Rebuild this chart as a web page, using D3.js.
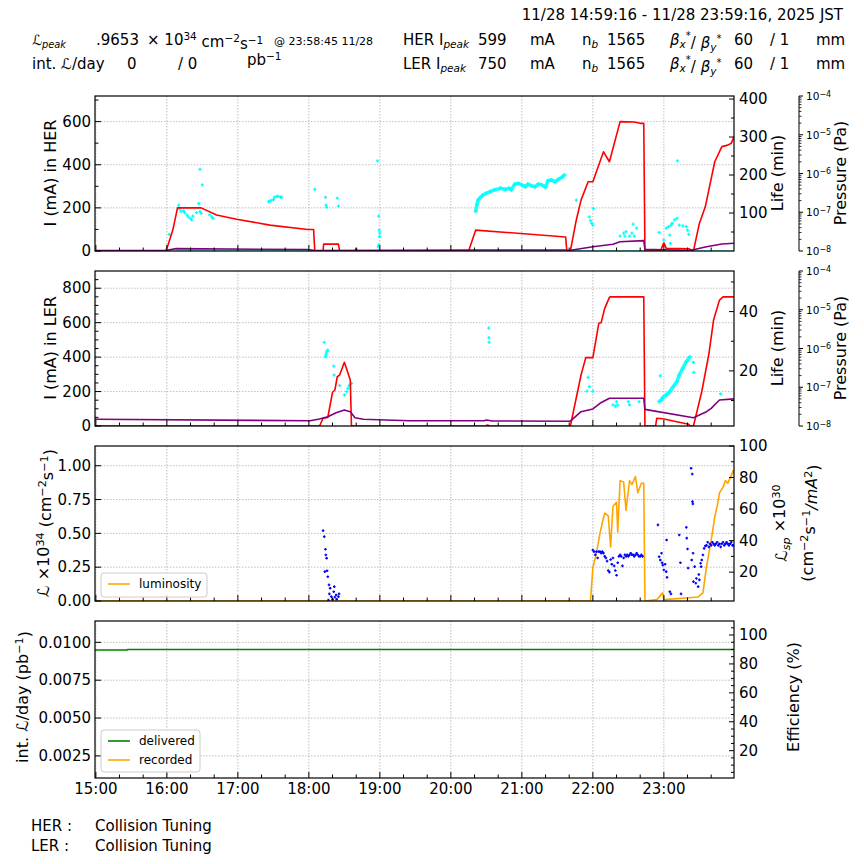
<!DOCTYPE html>
<html><head><meta charset="utf-8">
<script src="https://cdn.jsdelivr.net/npm/d3@7/dist/d3.min.js"></script>
<style>body{margin:0;background:#fff}svg{font-family:"DejaVu Sans",sans-serif}</style>
</head><body><div id="chart"></div>
<script>
// ---------------- DATA ----------------
const timeStart = "14:59:16", timeEnd = "23:59:16";
const hourTicks = ["15:00","16:00","17:00","18:00","19:00","20:00","21:00","22:00","23:00"];

const herCurrent = [["14:59:16",0],["15:59",0],["16:01",28],["16:05",97],["16:09",200],["16:29",200],["16:42",167],["16:59",147],["17:16",131],["17:27",120],["17:59",100],["18:04",100],["18:05",0],["18:12",0],["18:12:30",32],["18:25",32],["18:26",0],["18:39",0],["18:40",12],["18:41",0],["20:15",0],["20:21",97],["21:37",65],["21:38",0],["21:41",0],["21:46",144],["21:50",236],["21:56",321],["22:00",321],["22:05",399],["22:09",460],["22:14",414],["22:23",600],["22:35",598],["22:40",592],["22:43",592],["22:44",0],["22:57",0],["22:58",12],["23:00",38],["23:02",12],["23:21",10],["23:25",0],["23:30",128],["23:35",205],["23:43",414],["23:49",484],["23:54",491],["23:57",500],["23:59:16",530]];
const herPressure = [["14:59:16",1.03e-8],["15:59",1.03e-8],["16:08",1.15e-8],["17:59",1.09e-8],["18:05",1.03e-8],["20:20",1.06e-8],["21:37",1.06e-8],["21:40",1.03e-8],["22:00",1.29e-8],["22:17",1.49e-8],["22:23",1.74e-8],["22:43",1.85e-8],["22:44",1.11e-8],["23:22",1.03e-8],["23:36",1.29e-8],["23:49",1.51e-8],["23:59:16",1.58e-8]];
const herLifeTrack = [["20:21",104],["20:22",121],["20:23",134],["20:25",141],["20:27",147],["20:30",152],["20:33",156],["20:37",161],["20:42",165],["20:46",162],["20:49",165],["20:51",161],["20:54",176],["20:57",178],["21:00",174],["21:03",169],["21:05",176],["21:08",172],["21:11",169],["21:14",176],["21:17",174],["21:20",168],["21:22",185],["21:25",187],["21:28",182],["21:31",189],["21:34",194],["21:36",200]];
const herLifeScatter = [["16:02",44],["16:10",121],["16:11",110],["16:12",104],["16:14",106],["16:15",101],["16:17",95],["16:18",90],["16:20",86],["16:21",82],["16:22",92],["16:25",101],["16:27",125],["16:28",104],["16:29",99],["16:28",215],["16:30",174],["16:36",95],["16:38",90],["16:39",86],
["17:26",130],["17:27",131],["17:28",133],["17:30",135],["17:31",142],["17:33",144],["17:34",144],["17:36",142],["17:37",142],
["18:05",162],["18:14",141],["18:14:30",121],["18:15",115],["18:24",139],["18:25",118],["18:58",237],["18:59",92],["18:59:20",55],["19:00",47],["18:59:40",38],["18:59",16],["18:58:40",11],
["21:46",134],["21:57",90],["21:58",80],["21:59",73],["22:00",68],["22:00:30",112],["22:23",39],["22:26",47],["22:27",39],["22:28",51],["22:31",39],["22:33",47],["22:34",71],["22:35",39],["22:37",60],
["22:56",49],["23:00",29],["23:02",60],["23:04",64],["23:06",68],["23:07",73],["23:09",82],["23:11",86],["23:11:30",237],["23:05",42],["23:05:30",20],["23:13",68],["23:16",66],["23:19",64],["23:20",55],["23:21",44]];

const lerCurrent = [["14:59:16",0],["18:09",0],["18:12",45],["18:16",50],["18:20",196],["18:22",209],["18:24",286],["18:26",296],["18:30",370],["18:35",267],["18:36",0],["20:29",0],["20:31",6],["20:33",0],["21:41",0],["21:50",296],["21:54",397],["22:00",397],["22:05",596],["22:07",600],["22:10",683],["22:14",747],["22:15",750],["22:43",750],["22:44",0],["22:53",0],["22:54",45],["22:59",42],["23:21",10],["23:22",0],["23:25",0],["23:32",199],["23:38",416],["23:42",615],["23:47",731],["23:50",750],["23:59:16",750]];
const lerPressure = [["14:59:16",1.49e-8],["18:01",1.37e-8],["18:09",1.51e-8],["18:16",1.74e-8],["18:23",2.20e-8],["18:30",2.59e-8],["18:35",2.34e-8],["18:39",1.64e-8],["18:46",1.49e-8],["19:25",1.37e-8],["20:28",1.37e-8],["20:30",1.43e-8],["20:35",1.35e-8],["21:41",1.33e-8],["21:50",2.34e-8],["22:00",2.75e-8],["22:06",3.85e-8],["22:14",5.19e-8],["22:43",5.19e-8],["22:44",2.69e-8],["23:25",1.64e-8],["23:36",2.34e-8],["23:40",2.86e-8],["23:47",4.68e-8],["23:59:16",5.0e-8]];
const lerLifeTrack = [["22:56",9.6],["22:58",10.2],["22:59",11.0],["23:02",11.9],["23:05",13.0],["23:08",14.7],["23:11",16.4],["23:13",18.6],["23:16",20.9],["23:19",23.1],["23:22",24.8]];
const lerLifeScatter = [["18:13",29.6],["18:14",24.8],["18:14:30",25.6],["18:15",26.3],["18:15:30",26.7],["18:16",27.0],["18:21",21.6],["18:21:20",18.6],["18:26",15.0],["18:30",11.9],["18:32",13.0],["18:33",14.1],["18:34",15.0],["18:36",15.8],
["20:32",34.4],["20:32:10",31.2],["20:32:20",29.6],["21:55",13.2],["21:56",17.8],["21:57",14.7],["22:00",13.2],["22:17",8.5],["22:19",8.1],["22:20",9.6],["22:21",8.5],["22:30",9.6],["22:31",8.5],["22:39",9.6],["22:57",18.3],["23:25",22.9],["23:25:20",19.5],["23:48",12.2]];

const luminosity = [["14:59:16",0],["21:58",0],["22:00",0.25],["22:03",0.35],["22:06",0.50],["22:08",0.58],["22:10",0.65],["22:13",0.63],["22:15",0.40],["22:17",0.70],["22:20",0.73],["22:21",0.51],["22:23",0.89],["22:26",0.88],["22:28",0.67],["22:31",0.89],["22:33",0.86],["22:36",0.92],["22:38",0.80],["22:41",0.87],["22:43",0.87],["22:44",0],["22:54",0.01],["22:59",0.06],["23:00",0.01],["23:29",0.03],["23:33",0.06],["23:36",0.25],["23:40",0.45],["23:43",0.62],["23:45",0.70],["23:47",0.80],["23:50",0.84],["23:52",0.89],["23:54",0.87],["23:56",0.91],["23:58:45",0.9653],["23:59:16",0.94]];
const specificLumi = [["18:12",46.3],["18:13",42.5],["18:14",34.5],["18:14:20",30.9],["18:15",28.8],["18:13:30",20.3],["18:15:20",20.9],["18:16",17.1],["18:17",11.9],["18:18",9.8],["18:17:20",6.2],["18:19",4.5],["18:21",7.6],["18:22",4.1],["18:23",5.5],["18:25",4.5],["18:21:30",10.8],["18:20",2.8],["18:16:30",2.3],["18:23:30",2.8],["18:25:30",6.2],
["22:00",34],["22:01",33],["22:02",31],["22:03",33],["22:04",29],["22:05",33],["22:06",33],["22:07",32],["22:08",33],["22:09",32],["22:10",30],["22:11",29],["22:12",27],["22:13",21],["22:14",20],["22:15",28],["22:16",25],["22:17",29],["22:18",24],["22:19",21],["22:20",18],["22:21",26],["22:22",30],["22:23",31],["22:24",30],["22:25",24],["22:26",29],["22:27",31],["22:28",30],["22:29",31],["22:30",30],["22:31",31],["22:32",32],["22:33",31],["22:34",31],["22:35",30],["22:36",31],["22:37",32],["22:38",31],["22:39",30],["22:40",30],["22:41",31],["22:42",30],
["22:55",50],["22:56",29.8],["22:57",27.7],["22:58",32],["22:58:30",26],["22:59",24.5],["23:00",21.4],["23:01",25],["23:02",20.3],["23:02:20",40.4],["23:02:40",16.7],["23:05",7.6],["23:06",6.2],["23:13",43.6],["23:14",26],["23:14:30",6.2],["23:19",48.4],["23:19:20",41.6],["23:20",34.7],["23:20:30",22.6],
["23:23",85.9],["23:24",82.2],["23:24:10",64.7],["23:24:30",63.3],["23:23:30",27.7],["23:24:40",32],["23:25",14],["23:26",23.5],["23:27",13],["23:27:30",16],["23:29",10.8],["23:29:30",18.5],["23:30",15.1],["23:31",25.6],["23:31:30",23.5],["23:32",27.7],["23:33",30.9],["23:34",35.1],["23:35",36.6],
["23:36",37],["23:37",39],["23:38",36],["23:39",38],["23:40",37],["23:41",39],["23:42",38],["23:43",37],["23:44",38],["23:45",39],["23:46",37],["23:47",38],["23:48",36],["23:49",38],["23:50",39],["23:51",37],["23:52",38],["23:53",39],["23:54",38],["23:55",37],["23:56",38],["23:57",39],["23:58",37],["23:59",37]];

const delivered = [["14:59:16",0.00949],["15:26",0.00949],["15:27",0.00953],["23:59:16",0.00953]];
const recorded = [["14:59:16",0],["23:59:16",0]];

const p1Ticks=[0,200,400,600], p1Minor=[100,300,500,700], p1Life=[100,200,300,400], p1LifeMinor=[50,150,250,350];
const p2Ticks=[0,200,400,600,800], p2Minor=[50,100,150,250,300,350,450,500,550,650,700,750,850], p2Life=[20,40], p2LifeMinor=[10,30,50];
const p3Ticks=[0,0.25,0.5,0.75,1.0], p3Right=[20,40,60,80,100], p3RightMinor=[10,30,50,70,90];
const p4Ticks=[0.0025,0.005,0.0075,0.01], p4Right=[20,40,60,80,100], p4RightMinor=[5,10,15,25,30,35,45,50,55,65,70,75,85,90,95,105];
const pressureTicks=[1e-8,1e-7,1e-6,1e-5,1e-4];

// ---------------- DRAW ----------------
function tm(s){const a=s.split(':').map(Number);return (a[0]-15)*60+a[1]+(a[2]||0)/60;}
const W=864,H=864;
const svg=d3.select('#chart').append('svg').attr('width',W).attr('height',H);
const L=95,R=734;
const x=d3.scaleLinear().domain([tm(timeStart),tm(timeEnd)]).range([L,R]);
const FS=15;

const panels=[{t:96,b:251},{t:271,b:426},{t:446,b:601},{t:621,b:778}];
panels.forEach((p,i)=>{
  svg.append('clipPath').attr('id','clip'+i).append('rect').attr('x',L).attr('y',p.t).attr('width',R-L).attr('height',p.b-p.t);
});

function grid(p,ys,vals){
  const g=svg.append('g').attr('stroke','#b0b0b0').attr('stroke-width',0.8).attr('stroke-dasharray','1.5,1.5');
  hourTicks.forEach(h=>g.append('line').attr('x1',x(tm(h))).attr('x2',x(tm(h))).attr('y1',p.t).attr('y2',p.b));
  vals.forEach(v=>g.append('line').attr('x1',L).attr('x2',R).attr('y1',ys(v)).attr('y2',ys(v)));
}
function frame(p,showLabels){
  const g=svg.append('g');
  for(let m=tm("15:00")-60;m<=tm(timeEnd);m+=20){ if(m<x.domain()[0])continue;
    const major=((m%60)+60)%60===0;
    g.append('line').attr('x1',x(m)).attr('x2',x(m)).attr('y1',p.b).attr('y2',p.b-(major?6:3.5)).attr('stroke','#000').attr('stroke-width',1);
  }
  g.append('rect').attr('x',L).attr('y',p.t).attr('width',R-L).attr('height',p.b-p.t).attr('fill','none').attr('stroke','#000').attr('stroke-width',1.2);
  if(showLabels){
    hourTicks.forEach(h=>g.append('text').attr('x',x(tm(h))).attr('y',p.b+16).attr('text-anchor','middle').attr('font-size',FS).text(h));
  }
}
function leftAxis(p,ys,vals,fmt,minor){
  const g=svg.append('g');
  vals.forEach(v=>{g.append('line').attr('x1',L).attr('x2',L+6).attr('y1',ys(v)).attr('y2',ys(v)).attr('stroke','#000');
    g.append('text').attr('x',L-4).attr('y',ys(v)).attr('dy','0.35em').attr('text-anchor','end').attr('font-size',FS).text(fmt(v));});
  (minor||[]).forEach(v=>g.append('line').attr('x1',L).attr('x2',L+3.5).attr('y1',ys(v)).attr('y2',ys(v)).attr('stroke','#000'));
}
function rightAxis(p,ys,vals,fmt,minor){
  const g=svg.append('g');
  const [lo,hi]=ys.domain();
  vals.forEach(v=>{g.append('line').attr('x1',R-5).attr('x2',R).attr('y1',ys(v)).attr('y2',ys(v)).attr('stroke','#000');
    g.append('text').attr('x',R+5).attr('y',ys(v)).attr('dy','0.35em').attr('font-size',FS).text(fmt(v));});
  (minor||[]).filter(v=>v>lo&&v<hi).forEach(v=>g.append('line').attr('x1',R-3).attr('x2',R).attr('y1',ys(v)).attr('y2',ys(v)).attr('stroke','#000'));
}
function pressureAxis(p,ys){
  const ax=799,g=svg.append('g');
  g.append('line').attr('x1',ax).attr('x2',ax).attr('y1',p.t).attr('y2',p.b).attr('stroke','#000');
  pressureTicks.forEach(v=>{g.append('line').attr('x1',ax).attr('x2',ax+4).attr('y1',ys(v)).attr('y2',ys(v)).attr('stroke','#000');
    const e=Math.round(Math.log10(v));
    const t=g.append('text').attr('x',ax+7).attr('y',ys(v)).attr('dy','0.4em').attr('font-size',10.5);
    t.append('tspan').text('10'); t.append('tspan').attr('dy','-0.45em').attr('font-size',8).text('\u2212'+(-e));});
  for(let e=-8;e<-4;e++)for(let k=2;k<10;k++){const v=k*Math.pow(10,e);
    g.append('line').attr('x1',ax).attr('x2',ax+2.5).attr('y1',ys(v)).attr('y2',ys(v)).attr('stroke','#000').attr('stroke-width',0.8);}
}
function vlabel(xc,yc,parts,fs){
  fs=fs||16;
  const t=svg.append('text').attr('transform',`translate(${xc+0.36*fs},${yc}) rotate(-90)`).attr('text-anchor','middle').attr('font-size',fs);
  parts.forEach(pt=>{const s=t.append('tspan').text(pt.t);
    if(pt.sup){s.attr('dy',pt.dy!==undefined?pt.dy:'-0.45em').attr('font-size',fs*0.7);}
    else if(pt.dy!==undefined){s.attr('dy',pt.dy);}
    if(pt.it)s.attr('font-style','italic'); if(pt.fs)s.attr('font-size',pt.fs);});
  return t;
}
function line(data,xs,ys,color,w,clip,op){
  svg.append('path').datum(data).attr('clip-path',`url(#clip${clip})`).attr('fill','none').attr('stroke',color).attr('stroke-width',w).attr('opacity',op||1)
    .attr('stroke-linejoin','round').attr('d',d3.line().x(d=>xs(tm(d[0]))).y(d=>ys(d[1])));
}
function dots(data,xs,ys,color,r,clip){
  svg.append('g').attr('clip-path',`url(#clip${clip})`).selectAll('path').data(data).join('path')
    .attr('d',d=>{const cx=xs(tm(d[0])),cy=ys(d[1]);return `M${cx-r},${cy}H${cx+r}M${cx},${cy-r}V${cy+r}`;})
    .attr('stroke',color).attr('stroke-width',1.3);
}

// ---- Panel 1 HER
const P1=panels[0];
const y1=d3.scaleLinear().domain([0,718.8]).range([P1.b,P1.t]);
const y1L=d3.scaleLinear().domain([0,408]).range([P1.b,P1.t]);
const y1P=d3.scaleLog().domain([1e-8,1e-4]).range([P1.b,P1.t]);
grid(P1,y1,p1Ticks);
line([["16:08",0],[timeEnd,0]],x,y1L,'cyan',1.2,0);
line(herLifeTrack,x,y1L,'cyan',3.5,0,0.9);
dots(herLifeTrack,x,y1L,'cyan',2,0);
dots(herLifeScatter,x,y1L,'cyan',1.6,0);
line(herCurrent,x,y1,'red',1.6,0);
line(herPressure,x,y1P,'purple',1.6,0);
frame(P1,false);
leftAxis(P1,y1,p1Ticks,d3.format('d'),p1Minor);
rightAxis(P1,y1L,p1Life,d3.format('d'),p1LifeMinor);
pressureAxis(P1,y1P);
vlabel(50,173,[{t:'I (mA) in HER'}]);
vlabel(777,173,[{t:'Life (min)'}]);
vlabel(840,173,[{t:'Pressure (Pa)'}]);

// ---- Panel 2 LER
const P2=panels[1];
const y2=d3.scaleLinear().domain([0,900]).range([P2.b,P2.t]);
const y2L=d3.scaleLinear().domain([1.4,53.7]).range([P2.b,P2.t]);
const y2P=d3.scaleLog().domain([1e-8,1e-4]).range([P2.b,P2.t]);
grid(P2,y2,p2Ticks);
line(lerLifeTrack,x,y2L,'cyan',3.5,1,0.9);
dots(lerLifeTrack,x,y2L,'cyan',2,1);
dots(lerLifeScatter,x,y2L,'cyan',1.6,1);
line(lerCurrent,x,y2,'red',1.6,1);
line(lerPressure,x,y2P,'purple',1.6,1);
frame(P2,false);
leftAxis(P2,y2,p2Ticks,d3.format('d'),p2Minor);
rightAxis(P2,y2L,p2Life,d3.format('d'),p2LifeMinor);
pressureAxis(P2,y2P);
vlabel(50,348,[{t:'I (mA) in LER'}]);
vlabel(777,348,[{t:'Life (min)'}]);
vlabel(840,348,[{t:'Pressure (Pa)'}]);

// ---- Panel 3 luminosity
const P3=panels[2];
const y3=d3.scaleLinear().domain([0,1.146]).range([P3.b,P3.t]);
const y3R=d3.scaleLinear().domain([1.7,100]).range([P3.b,P3.t]);
grid(P3,y3,p3Ticks);
line(luminosity,x,y3,'orange',1.6,2);
dots(specificLumi,x,y3R,'blue',1.3,2);
frame(P3,false);
leftAxis(P3,y3,p3Ticks,d3.format('.2f'));
rightAxis(P3,y3R,p3Right,d3.format('d'),p3RightMinor);
vlabel(43,523,[{t:'\u2112',it:true},{t:' \u00d710'},{t:'34',sup:true},{t:' (cm',dy:'0.45em'},{t:'\u22122',sup:true},{t:'s',dy:'0.45em'},{t:'\u22121',sup:true},{t:')',dy:'0.45em'}]);
vlabel(781,523,[{t:'\u2112',it:true},{t:'sp',it:true,dy:'0.3em',fs:11},{t:' \u00d710',dy:'-0.3em'},{t:'30',sup:true}]);
vlabel(807,523,[{t:'(cm'},{t:'\u22122',sup:true},{t:'s',dy:'0.45em'},{t:'\u22121',sup:true},{t:'/mA',dy:'0.45em',it:true},{t:'2',sup:true},{t:')',dy:'0.45em'}]);
{const g=svg.append('g');
 g.append('rect').attr('x',101).attr('y',573).attr('width',106).attr('height',24).attr('rx',3).attr('fill','#fff').attr('fill-opacity',0.8).attr('stroke','#ccc');
 g.append('line').attr('x1',108).attr('x2',130).attr('y1',584).attr('y2',584).attr('stroke','orange').attr('stroke-width',1.6);
 g.append('text').attr('x',139).attr('y',584).attr('dy','0.35em').attr('font-size',12).text('luminosity');}

// ---- Panel 4 integrated
const P4=panels[3];
const y4=d3.scaleLinear().domain([0.00104,0.01141]).range([P4.b,P4.t]);
const y4R=d3.scaleLinear().domain([1.1,109.7]).range([P4.b,P4.t]);
grid(P4,y4,p4Ticks);
line(recorded,x,y4,'orange',1.6,3);
line(delivered,x,y4,'green',1.6,3);
frame(P4,true);
leftAxis(P4,y4,p4Ticks,d3.format('.4f'));
rightAxis(P4,y4R,p4Right,d3.format('d'),p4RightMinor);
vlabel(22,697,[{t:'int. '},{t:'\u2112',it:true},{t:'/day (pb'},{t:'\u22121',sup:true},{t:')',dy:'0.45em'}]);
vlabel(793,697,[{t:'Efficiency (%)'}]);
{const g=svg.append('g');
 g.append('rect').attr('x',101).attr('y',730).attr('width',99).attr('height',42).attr('rx',3).attr('fill','#fff').attr('fill-opacity',0.8).attr('stroke','#ccc');
 g.append('line').attr('x1',108).attr('x2',130).attr('y1',741).attr('y2',741).attr('stroke','green').attr('stroke-width',1.6);
 g.append('text').attr('x',139).attr('y',741).attr('dy','0.35em').attr('font-size',12).text('delivered');
 g.append('line').attr('x1',108).attr('x2',130).attr('y1',760).attr('y2',760).attr('stroke','orange').attr('stroke-width',1.6);
 g.append('text').attr('x',139).attr('y',760).attr('dy','0.35em').attr('font-size',12).text('recorded');}

// ---- Header
function txt(xp,yp,parts,fs,anchor){
  const t=svg.append('text').attr('x',xp).attr('y',yp).attr('font-size',fs||15).attr('text-anchor',anchor||'start');
  parts.forEach(pt=>{const s=t.append('tspan').text(pt.t);
    if(pt.sup)s.attr('dy',pt.dy||'-0.45em').attr('font-size',(fs||15)*0.7);
    else if(pt.sub)s.attr('dy',pt.dy||'0.3em').attr('font-size',(fs||15)*0.7);
    else if(pt.dy)s.attr('dy',pt.dy);
    if(pt.it)s.attr('font-style','italic'); if(pt.fs)s.attr('font-size',pt.fs);});
}
txt(843,20,[{t:'11/28 14:59:16 - 11/28 23:59:16, 2025 JST'}],15,'end');
const r1=45,r2=69;
txt(32,r1,[{t:'\u2112',it:true},{t:'peak',sub:true,it:true}],14);
txt(96,r1,[{t:'.9653'}]);
txt(147,r1,[{t:'\u00d7 10'},{t:'34',sup:true},{t:' cm',dy:'0.45em'},{t:'\u22122',sup:true},{t:'s',dy:'0.45em'},{t:'\u22121',sup:true}]);
txt(274,r1,[{t:'@ 23:58:45 11/28'}],11);
txt(403,r1,[{t:'HER I'},{t:'peak',sub:true,it:true}]);
txt(478,r1,[{t:'599'}]); txt(530,r1,[{t:'mA'}]);
txt(582,r1,[{t:'n'},{t:'b',sub:true,it:true}]); txt(607,r1,[{t:'1565'}]);
txt(670,r1,[{t:'\u03b2',it:true},{t:'x',sub:true,it:true},{t:'*',dy:'-0.9em',fs:10},{t:'/ ',dy:'0.6em'},{t:'\u03b2',it:true},{t:'y',sub:true,it:true},{t:'*',dy:'-0.9em',fs:10}]);
txt(734,r1,[{t:'60'}]); txt(770,r1,[{t:'/ 1'}]); txt(816,r1,[{t:'mm'}]);
txt(32,r2,[{t:'int. '},{t:'\u2112',it:true},{t:'/day'}]);
txt(127,r2,[{t:'0'}]); txt(178,r2,[{t:'/ 0'}]);
txt(247,r2-4,[{t:'pb'},{t:'\u22121',sup:true}]);
txt(403,r2,[{t:'LER I'},{t:'peak',sub:true,it:true}]);
txt(478,r2,[{t:'750'}]); txt(530,r2,[{t:'mA'}]);
txt(582,r2,[{t:'n'},{t:'b',sub:true,it:true}]); txt(607,r2,[{t:'1565'}]);
txt(670,r2,[{t:'\u03b2',it:true},{t:'x',sub:true,it:true},{t:'*',dy:'-0.9em',fs:10},{t:'/ ',dy:'0.6em'},{t:'\u03b2',it:true},{t:'y',sub:true,it:true},{t:'*',dy:'-0.9em',fs:10}]);
txt(734,r2,[{t:'60'}]); txt(770,r2,[{t:'/ 1'}]); txt(816,r2,[{t:'mm'}]);

// ---- Footer
txt(31,831,[{t:'HER :'}]); txt(95,831,[{t:'Collision Tuning'}]);
txt(31,851,[{t:'LER :'}]); txt(95,851,[{t:'Collision Tuning'}]);
</script></body></html>
